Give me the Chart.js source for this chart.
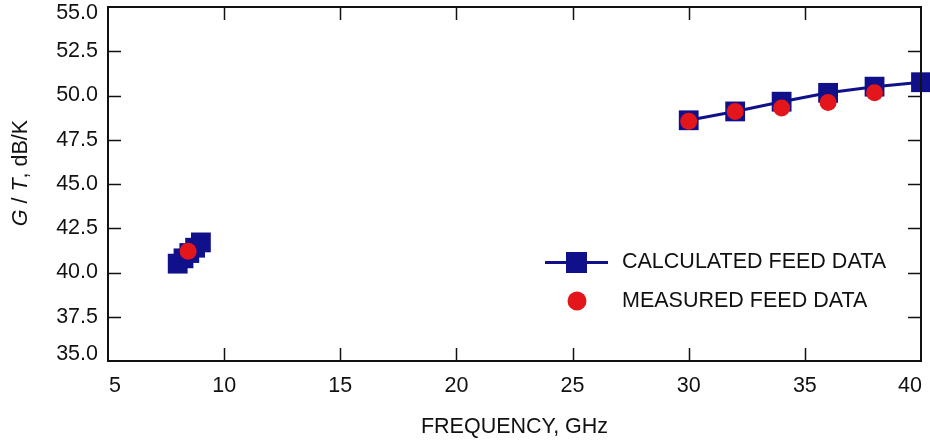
<!DOCTYPE html>
<html>
<head>
<meta charset="utf-8">
<script src="https://cdn.jsdelivr.net/npm/chart.js@4.4.1/dist/chart.umd.min.js"></script>
<style>
    html, body { margin: 0; padding: 0; background: #fff; }
    #wrap { width: 930px; height: 442px; position: relative; }
</style>
</head>
<body>
<div id="wrap"><canvas id="gtChart"></canvas></div>
<script>
// data
const calcFreq = [8.0, 8.25, 8.5, 8.75, 9.0, 30, 32, 34, 36, 38, 40];
const calcGT = [40.5, 40.8, 41.1, 41.4, 41.7, 48.6, 49.1, 49.65, 50.15, 50.5, 50.75];
const measFreq = [8.45, 30, 32, 34, 36, 38];
const measGT = [41.2, 48.55, 49.1, 49.3, 49.6, 50.15];

const xTicks = [5, 10, 15, 20, 25, 30, 35, 40];
const yTicks = [35.0, 37.5, 40.0, 42.5, 45.0, 47.5, 50.0, 52.5, 55.0];

const legendLabels = ["CALCULATED FEED DATA", "MEASURED FEED DATA"];
const xTitle = "FREQUENCY, GHz";

const NAVY = "#10108a";
const RED = "#e3161b";
const FONT = "'Liberation Sans', Arial, Helvetica, sans-serif";
const FSIZE = 21.5;

Chart.defaults.font.family = FONT;
Chart.defaults.color = "#111";

document.addEventListener("DOMContentLoaded", function () {
    const ctx = document.getElementById("gtChart").getContext("2d");

    const toPoints = (xs, ys) => xs.map((x, i) => ({ x: x, y: ys[i] }));

    // frame, inward ticks, tick labels, y title and legend
    const framePlugin = {
        id: "frame",
        afterDraw: function (chart) {
            const c = chart.ctx;
            const a = chart.chartArea;
            const xs = chart.scales.x;
            const ys = chart.scales.y;
            c.save();
            c.strokeStyle = "#111";
            c.lineWidth = 1.5;
            // inward ticks
            c.beginPath();
            xTicks.forEach(v => {
                const px = Math.round(xs.getPixelForValue(v)) + 0.5;
                if (px - a.left < 3 || a.right - px < 3) return;
                c.moveTo(px, a.bottom); c.lineTo(px, a.bottom - 13);
                c.moveTo(px, a.top); c.lineTo(px, a.top + 13);
            });
            yTicks.forEach(v => {
                const py = Math.round(ys.getPixelForValue(v)) + 0.5;
                if (py - a.top < 3 || a.bottom - py < 3) return;
                c.moveTo(a.left, py); c.lineTo(a.left + 13, py);
                c.moveTo(a.right, py); c.lineTo(a.right - 13, py);
            });
            c.stroke();
            // frame
            c.lineWidth = 2;
            c.strokeRect(a.left, a.top, a.right - a.left, a.bottom - a.top);

            c.fillStyle = "#111";
            c.font = FSIZE + "px " + FONT;

            // y tick labels, end labels kept inside the axis
            c.textAlign = "right";
            c.textBaseline = "middle";
            yTicks.forEach(v => {
                let py = ys.getPixelForValue(v);
                py = Math.min(Math.max(py, a.top + 6), a.bottom - 7);
                c.fillText(v.toFixed(1), a.left - 10, py);
            });

            // x tick labels, end labels kept inside the axis
            c.textAlign = "center";
            xTicks.forEach(v => {
                const s = String(v);
                const w = c.measureText(s).width;
                let px = xs.getPixelForValue(v);
                px = Math.min(Math.max(px, a.left + w / 2 + 1), a.right - w / 2 + 1);
                c.fillText(s, px, a.bottom + 25);
            });

            // y title with italic G and T
            const parts = [
                ["G", "italic "], [" / ", ""], ["T", "italic "], [", dB/K", ""]
            ];
            c.save();
            c.translate(21, 173);
            c.rotate(-Math.PI / 2);
            c.textAlign = "left";
            let total = 0;
            parts.forEach(p => { c.font = p[1] + FSIZE + "px " + FONT; total += c.measureText(p[0]).width; });
            let tx = -total / 2;
            parts.forEach(p => {
                c.font = p[1] + FSIZE + "px " + FONT;
                c.fillText(p[0], tx, 0);
                tx += c.measureText(p[0]).width;
            });
            c.restore();

            // legend inside the plot
            c.font = FSIZE + "px " + FONT;
            c.textAlign = "left";
            c.strokeStyle = NAVY;
            c.lineWidth = 3;
            c.beginPath();
            c.moveTo(545, 262.5); c.lineTo(608, 262.5);
            c.stroke();
            c.fillStyle = NAVY;
            c.fillRect(566, 252, 21, 21);
            c.fillStyle = "#111";
            c.fillText(legendLabels[0], 622, 262);

            c.fillStyle = RED;
            c.beginPath();
            c.arc(577, 301, 9.5, 0, Math.PI * 2);
            c.fill();
            c.fillStyle = "#111";
            c.fillText(legendLabels[1], 622, 301);
            c.restore();
        }
    };

    new Chart(ctx, {
        type: "scatter",
        data: {
            datasets: [
                {
                    label: legendLabels[1],
                    data: toPoints(measFreq, measGT),
                    showLine: false,
                    pointStyle: "circle",
                    pointRadius: 8.5,
                    pointHoverRadius: 8.5,
                    backgroundColor: RED,
                    borderColor: RED,
                    borderWidth: 0,
                    clip: false,
                },
                {
                    label: legendLabels[0],
                    data: toPoints(calcFreq, calcGT),
                    showLine: true,
                    borderColor: NAVY,
                    borderWidth: 3,
                    pointStyle: "rect",
                    pointRadius: 14,
                    pointHoverRadius: 14,
                    pointBackgroundColor: NAVY,
                    pointBorderWidth: 0,
                    clip: false,
                    segment: {
                        // no line across the gap between the two bands
                        borderColor: (s) => (s.p1.parsed.x - s.p0.parsed.x > 10 ? "rgba(0,0,0,0)" : NAVY),
                    },
                },
            ],
        },
        options: {
            responsive: true,
            maintainAspectRatio: false,
            animation: false,
            layout: { autoPadding: false, padding: { top: 7, right: 9, left: 0, bottom: 0 } },
            scales: {
                x: {
                    type: "linear",
                    min: 5,
                    max: 40,
                    afterBuildTicks: (scale) => { scale.ticks = xTicks.map(v => ({ value: v })); },
                    afterFit: (scale) => { scale.height = 81; },
                    grid: { display: false, drawTicks: false },
                    border: { display: false },
                    ticks: { display: false },
                    title: {
                        display: true,
                        text: xTitle,
                        color: "#111",
                        font: { size: FSIZE },
                        padding: { top: 0, bottom: 2 },
                    },
                },
                y: {
                    type: "linear",
                    min: 35,
                    max: 55,
                    afterBuildTicks: (scale) => { scale.ticks = yTicks.map(v => ({ value: v })); },
                    afterFit: (scale) => { scale.width = 108; },
                    grid: { display: false, drawTicks: false },
                    border: { display: false },
                    ticks: { display: false },
                },
            },
            plugins: {
                legend: { display: false },
                tooltip: { enabled: false },
            },
        },
        plugins: [framePlugin],
    });
});
</script>
</body>
</html>
